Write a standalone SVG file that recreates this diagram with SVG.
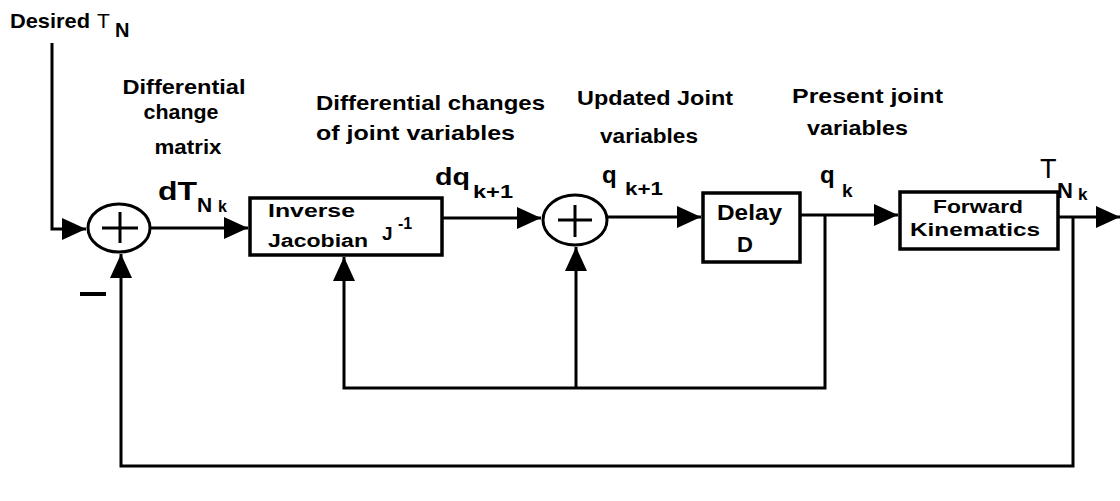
<svg xmlns="http://www.w3.org/2000/svg" width="1120" height="501" viewBox="0 0 1120 501">
<style>
.ln{fill:none;stroke:#000;stroke-width:3;}
.bx{fill:#fff;stroke:#000;stroke-width:3.5;}
.b{font-family:"Liberation Sans",Arial,sans-serif;font-weight:bold;fill:#000;}
.r{font-family:"Liberation Sans",Arial,sans-serif;font-weight:normal;fill:#000;}
</style>
<defs>
<marker id="ah" markerUnits="userSpaceOnUse" markerWidth="24" markerHeight="22" refX="24" refY="11" orient="auto">
<path d="M0,0 L24,11 L0,22 z" fill="#000"/>
</marker>
</defs>
<rect width="1120" height="501" fill="#fff"/>
<g id="connectors">
<polyline class="ln" points="52,43 52,229 86,229" marker-end="url(#ah)"/>
<line class="ln" x1="150" y1="228" x2="248" y2="228" marker-end="url(#ah)"/>
<line class="ln" x1="442" y1="218" x2="541" y2="218" marker-end="url(#ah)"/>
<line class="ln" x1="607" y1="217" x2="701" y2="217" marker-end="url(#ah)"/>
<line class="ln" x1="800" y1="215" x2="898" y2="215" marker-end="url(#ah)"/>
<line class="ln" x1="1058" y1="217" x2="1120" y2="217" marker-end="url(#ah)"/>
<polyline class="ln" points="825,215 825,388 344,388 344,257" marker-end="url(#ah)"/>
<line class="ln" x1="576" y1="388" x2="576" y2="247" marker-end="url(#ah)"/>
<polyline class="ln" points="1073,217 1073,466 121,466 121,254" marker-end="url(#ah)"/>
<line x1="80" y1="294" x2="106" y2="294" stroke="#000" stroke-width="4"/>
</g>
<g id="sum1">
<ellipse cx="119" cy="228" rx="31" ry="24" class="ln"/>
<line class="ln" x1="102" y1="228" x2="138" y2="228"/>
<line class="ln" x1="120" y1="212" x2="120" y2="243"/>
</g>
<g id="sum2">
<ellipse cx="575" cy="220" rx="32" ry="25" class="ln"/>
<line class="ln" x1="558" y1="220" x2="592" y2="220"/>
<line class="ln" x1="575" y1="205" x2="575" y2="237"/>
</g>
<g id="jacobian">
<rect class="bx" x="250" y="198" width="192" height="57"/>
<text class="b" x="268" y="217" font-size="18" textLength="87" lengthAdjust="spacingAndGlyphs">Inverse</text>
<text class="b" x="268" y="247" font-size="18" textLength="100" lengthAdjust="spacingAndGlyphs">Jacobian</text>
<text class="b" x="382" y="240" font-size="19">J</text>
<text class="b" x="398" y="229" font-size="16">-1</text>
</g>
<g id="delay">
<rect class="bx" x="703" y="193" width="97" height="69"/>
<text class="b" x="717" y="220" font-size="22" textLength="65" lengthAdjust="spacingAndGlyphs">Delay</text>
<text class="b" x="745" y="252" font-size="22" text-anchor="middle">D</text>
</g>
<g id="forward">
<rect class="bx" x="900" y="192" width="158" height="57"/>
<text class="b" x="933" y="213" font-size="19" textLength="90" lengthAdjust="spacingAndGlyphs">Forward</text>
<text class="b" x="910" y="236" font-size="19" textLength="130" lengthAdjust="spacingAndGlyphs">Kinematics</text>
</g>
<g id="labels">
<text class="b" x="10" y="28" font-size="21" textLength="80" lengthAdjust="spacingAndGlyphs">Desired</text>
<text class="r" x="97" y="28" font-size="21">T</text>
<text class="b" x="115" y="37" font-size="20">N</text>
<text class="b" x="184" y="94" font-size="21" text-anchor="middle" textLength="123" lengthAdjust="spacingAndGlyphs">Differential</text>
<text class="b" x="181" y="119" font-size="21" text-anchor="middle" textLength="75" lengthAdjust="spacingAndGlyphs">change</text>
<text class="b" x="188" y="154" font-size="21" text-anchor="middle" textLength="67" lengthAdjust="spacingAndGlyphs">matrix</text>
<text class="b" x="158" y="200" font-size="26" textLength="39" lengthAdjust="spacingAndGlyphs">dT</text>
<text class="b" x="197" y="212" font-size="21">N</text>
<text class="b" x="218" y="212" font-size="16">k</text>
<text class="b" x="316" y="110" font-size="21" textLength="229" lengthAdjust="spacingAndGlyphs">Differential  changes</text>
<text class="b" x="316" y="140" font-size="21" textLength="199" lengthAdjust="spacingAndGlyphs">of  joint  variables</text>
<text class="b" x="435" y="185" font-size="24" textLength="35" lengthAdjust="spacingAndGlyphs">dq</text>
<text class="b" x="473" y="198" font-size="19" textLength="40" lengthAdjust="spacingAndGlyphs">k+1</text>
<text class="b" x="577" y="105" font-size="20" textLength="156" lengthAdjust="spacingAndGlyphs">Updated  Joint</text>
<text class="b" x="600" y="143" font-size="20" textLength="98" lengthAdjust="spacingAndGlyphs">variables</text>
<text class="b" x="602" y="183" font-size="24">q</text>
<text class="b" x="625" y="195" font-size="19" textLength="38" lengthAdjust="spacingAndGlyphs">k+1</text>
<text class="b" x="792" y="103" font-size="20" textLength="151" lengthAdjust="spacingAndGlyphs">Present  joint</text>
<text class="b" x="807" y="135" font-size="20" textLength="101" lengthAdjust="spacingAndGlyphs">variables</text>
<text class="b" x="820" y="183" font-size="24">q</text>
<text class="b" x="842" y="197" font-size="19">k</text>
<text class="r" x="1040" y="178" font-size="27">T</text>
<text class="b" x="1057" y="198" font-size="22">N</text>
<text class="b" x="1078" y="200" font-size="17">k</text>
</g>
</svg>
